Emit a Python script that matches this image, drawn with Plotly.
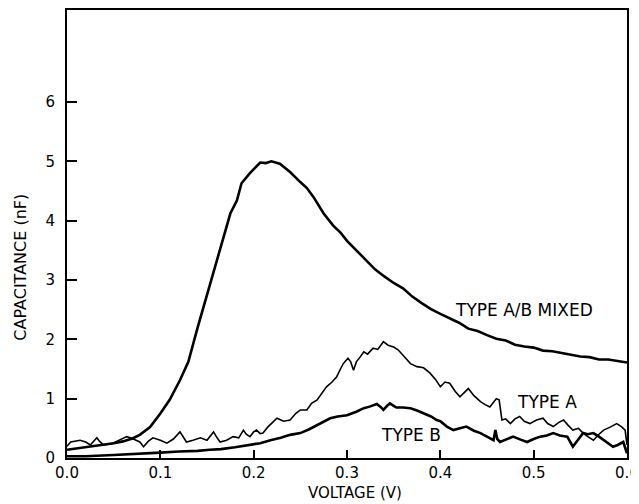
import plotly.graph_objects as go

# ---------------- data ----------------
mixed_x = [0.0, 0.01, 0.02, 0.03, 0.04, 0.05, 0.06, 0.07, 0.078, 0.089, 0.1, 0.11, 0.121, 0.13,
           0.14, 0.15, 0.16, 0.167, 0.175, 0.182, 0.187, 0.196, 0.207, 0.213, 0.219, 0.228, 0.239,
           0.25, 0.257, 0.264, 0.275, 0.285, 0.293, 0.30, 0.31, 0.32, 0.33, 0.34, 0.35, 0.36, 0.37,
           0.38, 0.39, 0.40, 0.41, 0.42, 0.43, 0.44, 0.45, 0.46, 0.47, 0.48, 0.49, 0.50, 0.51, 0.52,
           0.53, 0.54, 0.55, 0.56, 0.57, 0.58, 0.59, 0.60]
mixed_y = [0.14, 0.16, 0.18, 0.20, 0.22, 0.25, 0.28, 0.33, 0.39, 0.52, 0.75, 0.98, 1.31, 1.62,
           2.2, 2.75, 3.28, 3.67, 4.12, 4.34, 4.63, 4.80, 4.98, 4.97, 5.0, 4.96, 4.82,
           4.65, 4.55, 4.40, 4.12, 3.92, 3.80, 3.66, 3.50, 3.35, 3.18, 3.06, 2.95, 2.86, 2.72,
           2.61, 2.51, 2.43, 2.35, 2.28, 2.18, 2.14, 2.07, 2.01, 1.98, 1.91, 1.88, 1.86, 1.81, 1.80,
           1.77, 1.74, 1.71, 1.70, 1.66, 1.66, 1.63, 1.61]

typeA_x = [0.0, 0.004, 0.014, 0.02, 0.025, 0.029, 0.032, 0.035, 0.039, 0.048, 0.057, 0.064, 0.07,
           0.078, 0.082, 0.087, 0.092, 0.1, 0.107, 0.114, 0.121, 0.125, 0.128, 0.135, 0.143, 0.150,
           0.157, 0.160, 0.164, 0.171, 0.178, 0.184, 0.189, 0.192, 0.196, 0.200, 0.203, 0.207,
           0.210, 0.215, 0.220, 0.225, 0.232, 0.239, 0.245, 0.250, 0.257, 0.262, 0.268, 0.273,
           0.278, 0.284, 0.289, 0.293, 0.296, 0.301, 0.304, 0.307, 0.310, 0.314, 0.318, 0.322,
           0.328, 0.333, 0.339, 0.344, 0.350, 0.355, 0.360, 0.364, 0.368, 0.375, 0.382, 0.389,
           0.395, 0.400, 0.405, 0.410, 0.416, 0.421, 0.426, 0.430, 0.436, 0.443, 0.448, 0.453,
           0.457, 0.460, 0.463, 0.466, 0.470, 0.475, 0.480, 0.485, 0.490, 0.496, 0.503, 0.510,
           0.515, 0.521, 0.527, 0.532, 0.537, 0.542, 0.548, 0.553, 0.558, 0.564, 0.570, 0.575,
           0.582, 0.589, 0.594, 0.598, 0.600]
typeA_y = [0.20, 0.27, 0.30, 0.27, 0.22, 0.28, 0.34, 0.28, 0.22, 0.24, 0.30, 0.36, 0.33,
           0.27, 0.19, 0.28, 0.34, 0.30, 0.25, 0.32, 0.44, 0.35, 0.27, 0.30, 0.34, 0.30,
           0.44, 0.36, 0.27, 0.30, 0.36, 0.34, 0.47, 0.40, 0.36, 0.44, 0.47, 0.41,
           0.42, 0.52, 0.60, 0.67, 0.62, 0.64, 0.75, 0.81, 0.81, 0.92, 0.98, 1.08,
           1.20, 1.28, 1.37, 1.50, 1.59, 1.68, 1.62, 1.48, 1.62, 1.70, 1.79, 1.75,
           1.85, 1.83, 1.96, 1.90, 1.87, 1.82, 1.73, 1.65, 1.59, 1.54, 1.52, 1.43,
           1.32, 1.20, 1.28, 1.26, 1.12, 1.03, 1.10, 1.17, 1.05, 0.95, 0.90, 0.86,
           0.94, 1.00, 0.98, 0.64, 0.66, 0.58, 0.66, 0.70, 0.62, 0.58, 0.64, 0.67,
           0.58, 0.53, 0.60, 0.64, 0.55, 0.47, 0.50, 0.42, 0.36, 0.30, 0.40, 0.47,
           0.52, 0.58, 0.53, 0.47, 0.22]

typeB_x = [0.0, 0.02, 0.05, 0.08, 0.1, 0.12, 0.14, 0.153, 0.165, 0.18, 0.196, 0.207, 0.218, 0.229,
           0.239, 0.25, 0.259, 0.268, 0.275, 0.282, 0.29, 0.30, 0.31, 0.318, 0.325, 0.332, 0.336,
           0.339, 0.343, 0.346, 0.35, 0.353, 0.36, 0.368, 0.375, 0.382, 0.39, 0.396, 0.40, 0.407,
           0.414, 0.421, 0.428, 0.436, 0.443, 0.45, 0.457, 0.459, 0.461, 0.464, 0.471, 0.478,
           0.486, 0.493, 0.50, 0.507, 0.514, 0.521, 0.528, 0.536, 0.542, 0.548, 0.553, 0.558,
           0.564, 0.57, 0.575, 0.58, 0.585, 0.59, 0.596, 0.60]
typeB_y = [0.03, 0.03, 0.05, 0.07, 0.09, 0.11, 0.12, 0.14, 0.15, 0.18, 0.22, 0.25, 0.30, 0.34,
           0.39, 0.42, 0.48, 0.56, 0.62, 0.67, 0.70, 0.72, 0.78, 0.84, 0.87, 0.91, 0.86,
           0.81, 0.88, 0.92, 0.88, 0.85, 0.85, 0.84, 0.80, 0.75, 0.70, 0.64, 0.62, 0.53,
           0.47, 0.50, 0.53, 0.46, 0.42, 0.36, 0.30, 0.47, 0.32, 0.27, 0.32, 0.36,
           0.31, 0.27, 0.32, 0.36, 0.38, 0.42, 0.38, 0.36, 0.19, 0.32, 0.42, 0.40,
           0.42, 0.36, 0.30, 0.24, 0.19, 0.22, 0.27, 0.08]

x_ticks = [0.0, 0.1, 0.2, 0.3, 0.4, 0.5, 0.6]
x_tick_labels = ["0.0", "0.1", "0.2", "0.3", "0.4", "0.5", "0.6"]
y_ticks = [0, 1, 2, 3, 4, 5, 6]
y_tick_labels = ["0", "1", "2", "3", "4", "5", "6"]

labels = ["TYPE A/B MIXED", "TYPE A", "TYPE B"]
label_x = [0.49, 0.514, 0.369]
label_y = [2.49, 0.95, 0.39]

# ---------------- figure ----------------
FONT = "DejaVu Sans"
fig = go.Figure()
fig.add_trace(go.Scatter(x=mixed_x, y=mixed_y, mode="lines",
                         line=dict(color="black", width=2.6), showlegend=False))
fig.add_trace(go.Scatter(x=typeA_x, y=typeA_y, mode="lines",
                         line=dict(color="black", width=1.6), showlegend=False))
fig.add_trace(go.Scatter(x=typeB_x, y=typeB_y, mode="lines",
                         line=dict(color="black", width=2.6), showlegend=False))

for t, lx, ly in zip(labels, label_x, label_y):
    fig.add_annotation(x=lx, y=ly, text=t, showarrow=False, xref="x", yref="y",
                       font=dict(family=FONT, size=17, color="black"))

fig.add_annotation(text="VOLTAGE (V)", xref="paper", yref="paper", x=0.515, y=-0.079,
                   showarrow=False, yanchor="middle",
                   font=dict(family=FONT, size=15, color="black"))
fig.add_annotation(text="CAPACITANCE (nF)", xref="paper", yref="paper", x=-0.082, y=0.425,
                   showarrow=False, textangle=-90, xanchor="center", yanchor="middle",
                   font=dict(family=FONT, size=16, color="black"))

# the page body adds an 8px offset, so margins are set to land the plot box at
# x 67..627 and y 10..458 in the browser window
fig.update_layout(
    width=639, height=504,
    margin=dict(l=59, r=20, t=2, b=54),
    paper_bgcolor="white", plot_bgcolor="white",
    font=dict(family=FONT, size=14, color="black"),
)
fig.update_xaxes(range=[0, 0.6], tickvals=x_ticks, ticktext=x_tick_labels,
                 ticks="inside", ticklen=8, tickwidth=1.5, tickcolor="black",
                 showline=True, linecolor="black", linewidth=2, mirror=True,
                 showgrid=False, zeroline=False, automargin=False,
                 ticklabelstandoff=0,
                 tickfont=dict(family=FONT, size=15))
fig.update_yaxes(range=[0, 7.55], tickvals=y_ticks, ticktext=y_tick_labels,
                 ticks="inside", ticklen=10, tickwidth=1.5, tickcolor="black",
                 showline=True, linecolor="black", linewidth=2, mirror=True,
                 showgrid=False, zeroline=False, automargin=False,
                 ticklabelstandoff=7,
                 tickfont=dict(family=FONT, size=15))

fig.write_html("out.html")
